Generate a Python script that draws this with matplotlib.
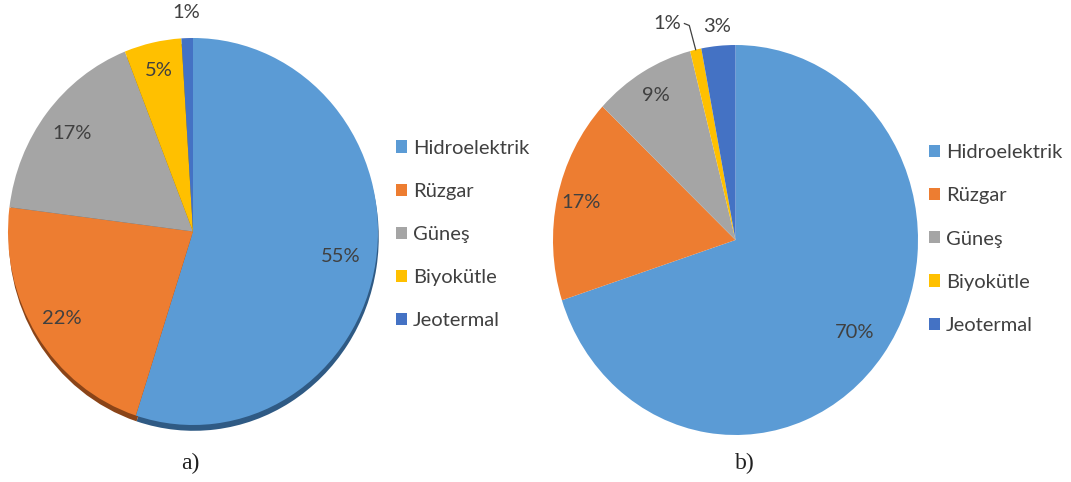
import numpy as np
import matplotlib.pyplot as plt
from matplotlib.patches import Patch

# energy source shares (%)
sources = ['Hidroelektrik', 'Rüzgar', 'Güneş', 'Biyokütle', 'Jeotermal']
share_a = [55, 22, 17, 5, 1]
share_b = [70, 17, 9, 1, 3]

colors = ['#5B9BD5', '#ED7D31', '#A5A5A5', '#FFC000', '#4472C4']
shadow_colors = ['#2F5A84', '#8A4418', '#5E5E5E', '#8F6C00', '#26416F']
text_color = '#404040'

# radial position of each percent label (None = drawn with a leader line)
label_r_a = [0.81, 0.84, 0.83, 0.85, 1.13]
label_r_b = [0.81, 0.87, 0.86, None, 1.10]

W, H = 1071, 482
fig = plt.figure(figsize=(W / 100, H / 100), dpi=100)
fig.patch.set_facecolor('white')
plt.rcParams['font.family'] = ['Lato', 'DejaVu Sans']
FS = 14.5


def px_axes(x0, y0, x1, y1):
    # axes box given in pixels, top-left origin
    ax = fig.add_axes([x0 / W, 1 - y1 / H, (x1 - x0) / W, (y1 - y0) / H])
    return ax


def draw_pie(ax, values, label_r, shadow=False):
    if shadow:
        sw, _ = ax.pie(values, colors=shadow_colors, startangle=90, counterclock=False,
                       center=(0.004, -0.03), radius=1.0, frame=True)
        for w in sw:
            w.set_clip_on(False)
    wedges, _ = ax.pie(values, colors=colors, startangle=90, counterclock=False,
                       radius=1.0, frame=True)
    ax.set_xlim(-1, 1)
    ax.set_ylim(-1, 1)
    ax.set_aspect('auto')
    ax.axis('off')
    for w in wedges:
        w.set_clip_on(False)
    for w, v, r in zip(wedges, values, label_r):
        if r is None:
            continue
        mid = np.deg2rad((w.theta1 + w.theta2) / 2)
        ax.text(r * np.cos(mid), r * np.sin(mid), f'{v}%', ha='center', va='center',
                fontsize=FS, color=text_color)
    return wedges


ax_a = px_axes(8, 38, 378, 425)
draw_pie(ax_a, share_a, label_r_a, shadow=True)

ax_b = px_axes(553, 45, 918, 435)
wedges_b = draw_pie(ax_b, share_b, label_r_b)

# leader line for the small Biyokütle slice
w = wedges_b[3]
mid = np.deg2rad((w.theta1 + w.theta2) / 2)
ex, ey = np.cos(mid), np.sin(mid)
ax_b.plot([ex, ex - 0.035, -0.28], [ey, 1.10, 1.11], color=text_color, lw=0.9,
          clip_on=False)
ax_b.text(-0.30, 1.11, f'{share_b[3]}%', ha='right', va='center', fontsize=FS,
          color=text_color)

handles = [Patch(facecolor=c, edgecolor='none') for c in colors]
for x, y in [(396, 234.5), (929, 239)]:
    fig.legend(handles, sources, loc='center left', bbox_to_anchor=(x / W, 1 - y / H),
               frameon=False, fontsize=FS, labelcolor=text_color,
               handlelength=0.55, handleheight=0.55, handletextpad=0.3,
               labelspacing=1.3, borderpad=0, borderaxespad=0)

fig.text(190 / W, 1 - 463 / H, 'a)', ha='center', va='center', fontsize=17,
         family='Liberation Serif', color='#202020')
fig.text(745 / W, 1 - 463 / H, 'b)', ha='center', va='center', fontsize=17,
         family='Liberation Serif', color='#202020')

fig.savefig('out.png', dpi=100, facecolor='white')
